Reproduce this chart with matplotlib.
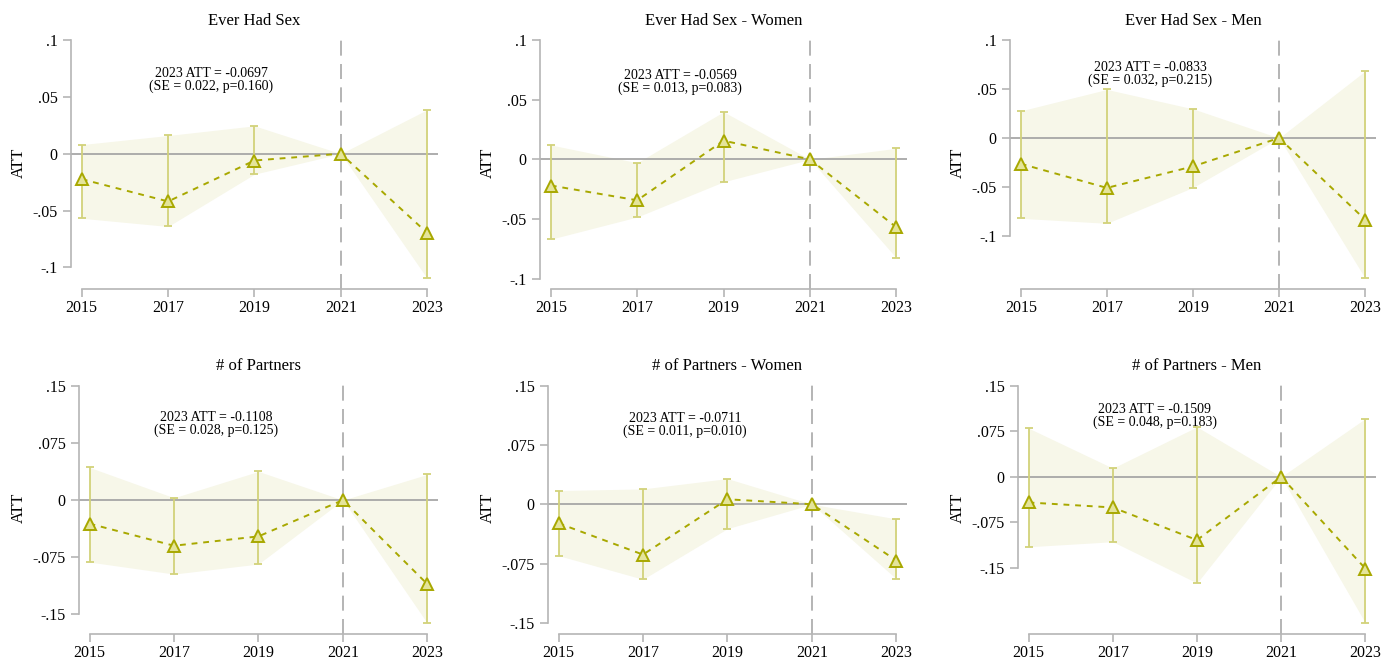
import numpy as np
import matplotlib.pyplot as plt

plt.rcParams['font.family'] = ['Liberation Serif', 'DejaVu Serif']

years = [2015, 2017, 2019, 2021, 2023]

titles = ['Ever Had Sex', 'Ever Had Sex - Women', 'Ever Had Sex - Men',
          '# of Partners', '# of Partners - Women', '# of Partners - Men']

# point estimates
att_sex = [-0.0224, -0.0420, -0.0060, 0.0, -0.0697]
att_sex_w = [-0.0219, -0.0343, 0.0157, 0.0, -0.0569]
att_sex_m = [-0.0263, -0.0509, -0.0290, 0.0, -0.0833]
att_part = [-0.0311, -0.0601, -0.0478, 0.0, -0.1108]
att_part_w = [-0.0240, -0.0636, 0.0063, 0.0, -0.0711]
att_part_m = [-0.0422, -0.0504, -0.1040, 0.0, -0.1509]

# confidence intervals
lo_sex = [-0.0568, -0.0640, -0.0180, 0.0, -0.1097]
hi_sex = [0.0080, 0.0160, 0.0245, 0.0, 0.0387]
lo_sex_w = [-0.0669, -0.0483, -0.0188, 0.0, -0.0826]
hi_sex_w = [0.0121, -0.0028, 0.0399, 0.0, 0.0093]
lo_sex_m = [-0.0819, -0.0870, -0.0505, 0.0, -0.1430]
hi_sex_m = [0.0276, 0.0495, 0.0297, 0.0, 0.0683]
lo_part = [-0.0816, -0.0974, -0.0842, 0.0, -0.1623]
hi_part = [0.0430, 0.0030, 0.0377, 0.0, 0.0338]
lo_part_w = [-0.0649, -0.0948, -0.0308, 0.0, -0.0944]
hi_part_w = [0.0173, 0.0194, 0.0324, 0.0, -0.0185]
lo_part_m = [-0.1150, -0.1067, -0.1746, 0.0, -0.2403]
hi_part_m = [0.0800, 0.0142, 0.0821, 0.0, 0.0958]

notes = ['2023 ATT = -0.0697\n(SE = 0.022, p=0.160)',
         '2023 ATT = -0.0569\n(SE = 0.013, p=0.083)',
         '2023 ATT = -0.0833\n(SE = 0.032, p=0.215)',
         '2023 ATT = -0.1108\n(SE = 0.028, p=0.125)',
         '2023 ATT = -0.0711\n(SE = 0.011, p=0.010)',
         '2023 ATT = -0.1509\n(SE = 0.048, p=0.183)']

atts = [att_sex, att_sex_w, att_sex_m, att_part, att_part_w, att_part_m]
los = [lo_sex, lo_sex_w, lo_sex_m, lo_part, lo_part_w, lo_part_m]
his = [hi_sex, hi_sex_w, hi_sex_m, hi_part, hi_part_w, hi_part_m]

sex_ticks = [-0.1, -0.05, 0, 0.05, 0.1]
sex_labels = ['-.1', '-.05', '0', '.05', '.1']
part_ticks = [-0.15, -0.075, 0, 0.075, 0.15]
part_labels = ['-.15', '-.075', '0', '.075', '.15']

ylims = [(-0.119, 0.103), (-0.1087, 0.103), (-0.154, 0.1034),
         (-0.1763, 0.156), (-0.1639, 0.155), (-0.2584, 0.1566)]

lefts = [0.0513, 0.3905, 0.7303, 0.0571, 0.3962, 0.7361]
widths = [0.2654, 0.2654, 0.2646, 0.2596, 0.2596, 0.2588]
bottoms = [0.5621] * 3 + [0.0394] * 3
height = 0.3825

olive = '#a8a800'
bar_c = '#d2d27a'
shade = '#f7f7e9'
axis_gray = '#b5b5b5'

fig = plt.figure(figsize=(13.83, 6.6), dpi=100)

for i in range(6):
    ax = fig.add_axes([lefts[i], bottoms[i], widths[i], height])
    x = np.array(years)
    ax.fill_between(x, los[i], his[i], color=shade, lw=0, zorder=1)
    ax.axhline(0, color='#a0a0a0', lw=1.2, zorder=2)
    ax.axvline(2021, color='#a8a8a8', lw=1.2, dashes=(9, 5), zorder=2)
    ax.errorbar(x, atts[i], yerr=[np.array(atts[i]) - np.array(los[i]),
                                  np.array(his[i]) - np.array(atts[i])],
                fmt='none', ecolor=bar_c, elinewidth=1.3, capsize=3, capthick=1.3, zorder=3)
    ax.plot(x, atts[i], color=olive, lw=1.4, dashes=(3, 3), zorder=4)
    ax.plot(x, atts[i], ls='none', marker='^', ms=8, mfc='#e4e49a', mec=olive, mew=1.4, zorder=5)

    ax.text(2018, 0.065 if i < 3 else 0.1, notes[i], ha='center', va='center', fontsize=10,
            linespacing=1.0, zorder=6)

    ax.set_xlim(2014.75, 2023.25)
    ax.set_ylim(*ylims[i])
    ax.set_xticks(years)
    if i < 3:
        ax.set_yticks(sex_ticks)
        ax.set_yticklabels(sex_labels)
        ax.spines['left'].set_bounds(-0.1, 0.1)
    else:
        ax.set_yticks(part_ticks)
        ax.set_yticklabels(part_labels)
        ax.spines['left'].set_bounds(-0.15, 0.15)
    ax.spines['bottom'].set_bounds(2015, 2023)
    ax.spines['top'].set_visible(False)
    ax.spines['right'].set_visible(False)
    for s in ['left', 'bottom']:
        ax.spines[s].set_color(axis_gray)
        ax.spines[s].set_linewidth(1.2)
    ax.tick_params(colors=axis_gray, labelcolor='black', labelsize=11.5, width=1.2, length=6)
    ax.tick_params(axis='x', pad=2)
    ax.set_ylabel('ATT', fontsize=12, labelpad=4)
    ax.set_title(titles[i], fontsize=12, pad=8)

fig.savefig('out.png', dpi=100)
